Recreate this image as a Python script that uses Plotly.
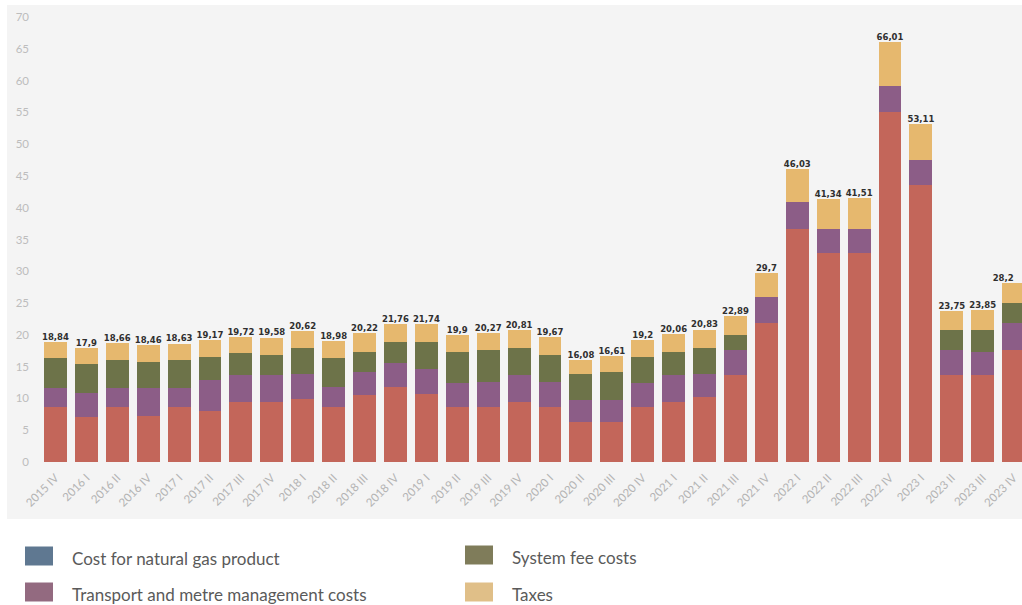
import plotly.graph_objects as go

# Quarterly gas price components (c€/Smc) and totals
quarters = [
    "2015 IV", "2016 I", "2016 II", "2016 IV",
    "2017 I", "2017 II", "2017 III", "2017 IV",
    "2018 I", "2018 II", "2018 III", "2018 IV",
    "2019 I", "2019 II", "2019 III", "2019 IV",
    "2020 I", "2020 II", "2020 III", "2020 IV",
    "2021 I", "2021 II", "2021 III", "2021 IV",
    "2022 I", "2022 II", "2022 III", "2022 IV",
    "2023 I", "2023 II", "2023 III", "2023 IV",
]
totals = [
    18.84, 17.9, 18.66, 18.46, 18.63, 19.17, 19.72, 19.58,
    20.62, 18.98, 20.22, 21.76, 21.74, 19.9, 20.27, 20.81,
    19.67, 16.08, 16.61, 19.2, 20.06, 20.83, 22.89, 29.7,
    46.03, 41.34, 41.51, 66.01, 53.11, 23.75, 23.85, 28.2,
]
gas_product = [
    8.6, 7.1, 8.6, 7.2, 8.6, 8.0, 9.5, 9.5,
    9.9, 8.6, 10.5, 11.8, 10.7, 8.6, 8.6, 9.5,
    8.6, 6.3, 6.3, 8.6, 9.5, 10.3, 13.7, 21.8,
    36.7, 32.8, 32.8, 55.1, 43.6, 13.7, 13.7, 17.6,
]
transport = [
    3.0, 3.7, 3.0, 4.4, 3.0, 4.9, 4.2, 4.2,
    4.0, 3.2, 3.7, 3.8, 3.9, 3.8, 4.0, 4.2,
    4.0, 3.4, 3.4, 3.8, 4.2, 3.6, 3.9, 4.2,
    4.2, 3.8, 3.8, 4.0, 3.9, 3.9, 3.6, 4.2,
]
system_fees = [
    4.7, 4.6, 4.4, 4.2, 4.4, 3.6, 3.4, 3.1,
    4.0, 4.5, 3.1, 3.2, 4.2, 4.9, 5.0, 4.2,
    4.3, 4.1, 4.5, 4.1, 3.6, 4.0, 2.4, 0.0,
    0.0, 0.0, 0.0, 0.0, 0.0, 3.2, 3.5, 3.2,
]
taxes = [round(t - g - tr - s, 2) for t, g, tr, s in zip(totals, gas_product, transport, system_fees)]

labels = [f"{v:g}".replace(".", ",") for v in totals]
# the rightmost label sits against the edge, so it is anchored to its right side
label_pos = ["top center"] * (len(totals) - 1) + ["top left"]

bar_colors = ["#c3665a", "#8c5d87", "#6d7349", "#e6b86e"]
legend_colors = ["#5f7891", "#936a80", "#7f7c5a", "#e0bf88"]
legend_names = [
    "Cost for natural gas product",
    "Transport and metre management costs",
    "System fee costs",
    "Taxes",
]

W, H = 1022, 605
L, R, T, B = 40, 0, 17, 143
plot_w, plot_h = W - L - R, H - T - B


def px(x):
    return (x - L) / plot_w


def py(y):
    return (H - B - y) / plot_h


fig = go.Figure()
for vals, col, name in zip([gas_product, transport, system_fees, taxes], bar_colors, legend_names):
    fig.add_trace(go.Bar(
        x=quarters, y=vals, name=name, marker=dict(color=col, line=dict(width=0)),
        showlegend=False, hoverinfo="skip",
    ))

fig.add_trace(go.Scatter(
    x=quarters, y=totals, mode="text", text=labels, textposition=label_pos,
    textfont=dict(family="DejaVu Sans", size=8.5, color="#2f2f2f", weight="bold"),
    showlegend=False, cliponaxis=False, hoverinfo="skip",
))

shapes = [
    # light panel behind the chart
    dict(type="rect", xref="paper", yref="paper", x0=px(7), x1=px(1030), y0=py(519), y1=py(5),
         fillcolor="#f4f4f4", line=dict(width=0), layer="below"),
]
annotations = []
legend_pos = [(25, 556), (25, 592), (465, 555), (465, 592)]
for (lx, ly), col, name in zip(legend_pos, legend_colors, legend_names):
    shapes.append(dict(type="rect", xref="paper", yref="paper",
                       x0=px(lx), x1=px(lx + 28), y0=py(ly + 9.5), y1=py(ly - 9.5),
                       fillcolor=col, line=dict(width=0)))
    annotations.append(dict(xref="paper", yref="paper", x=px(lx + 45), y=py(ly + 2),
                            text=name, showarrow=False, xanchor="left", yanchor="middle",
                            font=dict(family="Lato", size=17, color="#5a5a5a")))

fig.update_layout(
    width=W, height=H, autosize=False,
    margin=dict(l=L, r=R, t=T, b=B, pad=0),
    barmode="stack", bargap=0.26,
    paper_bgcolor="white", plot_bgcolor="rgba(0,0,0,0)",
    shapes=shapes, annotations=annotations,
    xaxis=dict(
        range=[-0.5, 31.27], tickangle=-45, showgrid=False, zeroline=False, showline=False,
        ticks="", tickfont=dict(family="Lato", size=11.5, color="#b3b3b3"),
        ticklabelstandoff=6, fixedrange=True,
    ),
    yaxis=dict(
        range=[0, 70], dtick=5, showgrid=False, zeroline=False, showline=False,
        ticks="", tickfont=dict(family="Lato", size=11.5, color="#bdbdbd"),
        ticklabelstandoff=10, fixedrange=True,
    ),
)

fig.write_html("out.html")
